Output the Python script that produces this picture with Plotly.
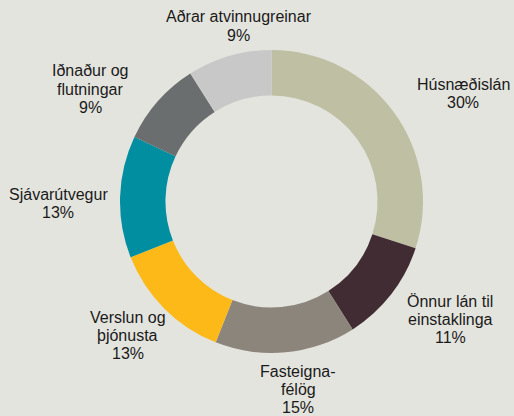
import plotly.graph_objects as go

# ---- data ----
categories = ["Húsnæðislán", "Önnur lán til einstaklinga", "Fasteignafélög",
              "Verslun og þjónusta", "Sjávarútvegur", "Iðnaður og flutningar",
              "Aðrar atvinnugreinar"]
shares = [30, 11, 15, 13, 13, 9, 9]
label_lines = [["Húsnæðislán"], ["Önnur lán til", "einstaklinga"], ["Fasteigna-", "félög"],
               ["Verslun og", "þjónusta"], ["Sjávarútvegur"], ["Iðnaður og", "flutningar"],
               ["Aðrar atvinnugreinar"]]

# ---- styles / layout ----
colors = ["#bfbfa4", "#412c33", "#8c857b", "#fdb918", "#008ea0", "#6b6e6e", "#c8c8c8"]
W, H = 514, 416
bg = "#e4e4de"
# label block centers (px): x center, y of first line
label_pos = [(463, 84.5), (450, 301.5), (298, 371), (127.5, 317), (58, 194.5), (90, 71), (238.5, 17)]
line_gap = 18.2

fig = go.Figure(go.Pie(
    labels=categories, values=shares, sort=False, direction="clockwise", rotation=0,
    hole=0.70, marker=dict(colors=colors, line=dict(width=0)), textinfo="none",
    hoverinfo="label+percent", showlegend=False,
    domain=dict(x=[120 / W, 423 / W], y=[(H - 353) / H, (H - 50) / H]),
))

annotations = []
for lines, val, (cx, cy) in zip(label_lines, shares, label_pos):
    for i, t in enumerate(lines + [f"{val}%"]):
        annotations.append(dict(
            text=t, x=cx / W, y=1 - (cy + i * line_gap) / H, xref="paper", yref="paper",
            xanchor="center", yanchor="middle", showarrow=False,
            font=dict(family="Liberation Sans, Arial, sans-serif", size=16, color="#1a1a1a"),
        ))

fig.update_layout(
    width=W, height=H, margin=dict(l=0, r=0, t=0, b=0),
    paper_bgcolor=bg, plot_bgcolor=bg, annotations=annotations,
)
fig.write_html("out.html", config={"displayModeBar": False},
               post_script="document.body.style.margin='0';document.body.style.background='%s';" % bg)
